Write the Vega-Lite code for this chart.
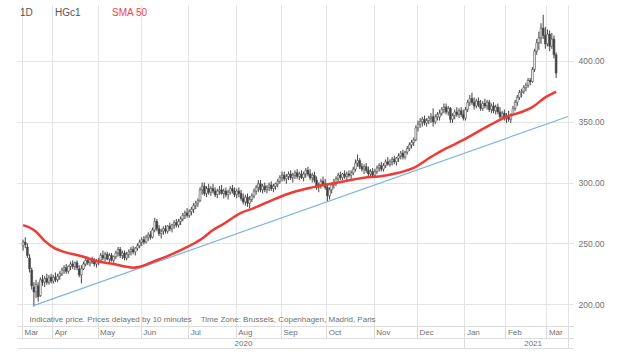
{
  "$schema": "https://vega.github.io/schema/vega-lite/v6.json",
  "width": 556,
  "height": 321,
  "padding": {"left": 17, "top": 5, "right": 5, "bottom": 5},
  "background": "white",
  "config": {
    "font": "Liberation Sans",
    "view": {"stroke": null},
    "axis": {"gridColor": "#e4e4e4", "domainColor": "#dcdcdc", "tickColor": "#dcdcdc", "labelColor": "#707070", "labelFontSize": 8, "labelFont": "Liberation Sans"},
    "axisY": {"orient": "right", "format": ".2f", "grid": true, "domain": false, "ticks": false, "labelPadding": 5, "labelFontSize": 8.5, "title": null}
  },
  "datasets": {
    "ohlc": [
      {"t":0,"o":248,"h":253,"l":244,"c":251},{"t":1,"o":251,"h":255,"l":246,"c":249},{"t":2,"o":247,"h":250,"l":238,"c":240},{"t":3,"o":238,"h":241,"l":226,"c":229},{"t":4,"o":228,"h":230,"l":212,"c":215},{"t":5,"o":214,"h":218,"l":198,"c":210},{"t":6,"o":210,"h":220,"l":205,"c":216},{"t":7,"o":215,"h":218,"l":202,"c":206},{"t":8,"o":207,"h":222,"l":206,"c":220},{"t":9,"o":220,"h":224,"l":215,"c":218},
      {"t":10,"o":218,"h":223,"l":214,"c":221},{"t":11,"o":221,"h":225,"l":216,"c":218},{"t":12,"o":218,"h":224,"l":216,"c":222},{"t":13,"o":222,"h":225,"l":217,"c":219},{"t":14,"o":219,"h":224,"l":217,"c":222},{"t":15,"o":222,"h":226,"l":218,"c":220},{"t":16,"o":220,"h":225,"l":218,"c":223},{"t":17,"o":223,"h":227,"l":220,"c":225},{"t":18,"o":225,"h":230,"l":223,"c":228},{"t":19,"o":228,"h":232,"l":225,"c":230},
      {"t":20,"o":230,"h":233,"l":225,"c":227},{"t":21,"o":227,"h":232,"l":225,"c":231},{"t":22,"o":231,"h":235,"l":228,"c":233},{"t":23,"o":233,"h":236,"l":229,"c":231},{"t":24,"o":231,"h":235,"l":228,"c":234},{"t":25,"o":234,"h":236,"l":228,"c":230},{"t":26,"o":229,"h":232,"l":222,"c":224},{"t":27,"o":224,"h":232,"l":217,"c":229},{"t":28,"o":229,"h":235,"l":228,"c":233},{"t":29,"o":233,"h":238,"l":231,"c":236},
      {"t":30,"o":236,"h":239,"l":232,"c":234},{"t":31,"o":234,"h":238,"l":231,"c":237},{"t":32,"o":237,"h":239,"l":233,"c":235},{"t":33,"o":235,"h":238,"l":231,"c":233},{"t":34,"o":233,"h":237,"l":230,"c":235},{"t":35,"o":235,"h":238,"l":232,"c":236},{"t":36,"o":236,"h":242,"l":235,"c":240},{"t":37,"o":240,"h":244,"l":236,"c":238},{"t":38,"o":238,"h":243,"l":235,"c":241},{"t":39,"o":241,"h":243,"l":236,"c":237},
      {"t":40,"o":237,"h":242,"l":234,"c":240},{"t":41,"o":240,"h":242,"l":235,"c":236},{"t":42,"o":236,"h":240,"l":234,"c":239},{"t":43,"o":239,"h":244,"l":237,"c":242},{"t":44,"o":242,"h":247,"l":239,"c":245},{"t":45,"o":245,"h":247,"l":238,"c":240},{"t":46,"o":240,"h":244,"l":237,"c":242},{"t":47,"o":242,"h":244,"l":236,"c":238},{"t":48,"o":238,"h":243,"l":236,"c":241},{"t":49,"o":241,"h":245,"l":238,"c":243},
      {"t":50,"o":243,"h":247,"l":240,"c":245},{"t":51,"o":245,"h":248,"l":241,"c":243},{"t":52,"o":243,"h":247,"l":240,"c":246},{"t":53,"o":246,"h":250,"l":244,"c":248},{"t":54,"o":248,"h":253,"l":246,"c":251},{"t":55,"o":251,"h":255,"l":248,"c":253},{"t":56,"o":253,"h":256,"l":249,"c":251},{"t":57,"o":251,"h":257,"l":250,"c":255},{"t":58,"o":255,"h":259,"l":252,"c":257},{"t":59,"o":257,"h":260,"l":253,"c":255},
      {"t":60,"o":255,"h":263,"l":254,"c":261},{"t":61,"o":261,"h":271,"l":259,"c":268},{"t":62,"o":268,"h":270,"l":260,"c":262},{"t":63,"o":262,"h":265,"l":256,"c":258},{"t":64,"o":258,"h":262,"l":254,"c":260},{"t":65,"o":260,"h":264,"l":257,"c":262},{"t":66,"o":262,"h":265,"l":258,"c":260},{"t":67,"o":260,"h":265,"l":258,"c":264},{"t":68,"o":264,"h":267,"l":260,"c":262},{"t":69,"o":262,"h":266,"l":259,"c":265},
      {"t":70,"o":265,"h":269,"l":262,"c":267},{"t":71,"o":267,"h":270,"l":263,"c":265},{"t":72,"o":265,"h":270,"l":263,"c":268},{"t":73,"o":268,"h":272,"l":265,"c":270},{"t":74,"o":270,"h":275,"l":268,"c":273},{"t":75,"o":273,"h":277,"l":270,"c":275},{"t":76,"o":275,"h":279,"l":271,"c":273},{"t":77,"o":273,"h":278,"l":271,"c":276},{"t":78,"o":276,"h":280,"l":273,"c":278},{"t":79,"o":278,"h":283,"l":275,"c":281},
      {"t":80,"o":281,"h":285,"l":278,"c":283},{"t":81,"o":283,"h":287,"l":280,"c":285},{"t":82,"o":285,"h":296,"l":284,"c":294},{"t":83,"o":294,"h":300,"l":290,"c":297},{"t":84,"o":297,"h":300,"l":289,"c":291},{"t":85,"o":291,"h":297,"l":288,"c":295},{"t":86,"o":295,"h":299,"l":290,"c":292},{"t":87,"o":292,"h":297,"l":289,"c":295},{"t":88,"o":295,"h":299,"l":291,"c":293},{"t":89,"o":293,"h":296,"l":288,"c":290},
      {"t":90,"o":290,"h":295,"l":287,"c":293},{"t":91,"o":293,"h":297,"l":290,"c":294},{"t":92,"o":294,"h":298,"l":290,"c":291},{"t":93,"o":291,"h":295,"l":287,"c":293},{"t":94,"o":293,"h":296,"l":288,"c":290},{"t":95,"o":290,"h":294,"l":286,"c":292},{"t":96,"o":292,"h":297,"l":290,"c":295},{"t":97,"o":295,"h":298,"l":291,"c":293},{"t":98,"o":293,"h":296,"l":288,"c":290},{"t":99,"o":290,"h":295,"l":287,"c":293},
      {"t":100,"o":293,"h":296,"l":288,"c":291},{"t":101,"o":291,"h":294,"l":285,"c":287},{"t":102,"o":287,"h":291,"l":282,"c":284},{"t":103,"o":284,"h":290,"l":281,"c":288},{"t":104,"o":288,"h":291,"l":280,"c":283},{"t":105,"o":283,"h":289,"l":279,"c":286},{"t":106,"o":286,"h":291,"l":284,"c":289},{"t":107,"o":289,"h":295,"l":287,"c":293},{"t":108,"o":293,"h":298,"l":290,"c":296},{"t":109,"o":296,"h":302,"l":292,"c":299},
      {"t":110,"o":299,"h":302,"l":292,"c":294},{"t":111,"o":294,"h":299,"l":291,"c":297},{"t":112,"o":297,"h":300,"l":292,"c":294},{"t":113,"o":294,"h":298,"l":291,"c":296},{"t":114,"o":296,"h":300,"l":293,"c":298},{"t":115,"o":298,"h":301,"l":293,"c":295},{"t":116,"o":295,"h":299,"l":292,"c":297},{"t":117,"o":297,"h":300,"l":294,"c":299},{"t":118,"o":299,"h":303,"l":296,"c":301},{"t":119,"o":301,"h":306,"l":299,"c":304},
      {"t":120,"o":304,"h":309,"l":301,"c":306},{"t":121,"o":306,"h":309,"l":301,"c":303},{"t":122,"o":303,"h":307,"l":299,"c":305},{"t":123,"o":305,"h":309,"l":302,"c":307},{"t":124,"o":307,"h":310,"l":302,"c":304},{"t":125,"o":304,"h":308,"l":300,"c":306},{"t":126,"o":306,"h":310,"l":303,"c":308},{"t":127,"o":308,"h":311,"l":303,"c":305},{"t":128,"o":305,"h":309,"l":302,"c":307},{"t":129,"o":307,"h":310,"l":303,"c":304},
      {"t":130,"o":304,"h":309,"l":301,"c":307},{"t":131,"o":307,"h":312,"l":304,"c":310},{"t":132,"o":310,"h":313,"l":305,"c":307},{"t":133,"o":307,"h":311,"l":302,"c":304},{"t":134,"o":304,"h":308,"l":300,"c":306},{"t":135,"o":306,"h":309,"l":300,"c":302},{"t":136,"o":302,"h":305,"l":294,"c":296},{"t":137,"o":296,"h":300,"l":292,"c":298},{"t":138,"o":298,"h":303,"l":295,"c":301},{"t":139,"o":301,"h":305,"l":297,"c":299},
      {"t":140,"o":299,"h":303,"l":294,"c":296},{"t":141,"o":296,"h":298,"l":284,"c":289},{"t":142,"o":289,"h":296,"l":286,"c":294},{"t":143,"o":294,"h":300,"l":291,"c":298},{"t":144,"o":298,"h":303,"l":295,"c":300},{"t":145,"o":300,"h":305,"l":297,"c":303},{"t":146,"o":303,"h":308,"l":301,"c":306},{"t":147,"o":306,"h":309,"l":302,"c":304},{"t":148,"o":304,"h":308,"l":302,"c":307},{"t":149,"o":307,"h":310,"l":303,"c":305},
      {"t":150,"o":305,"h":309,"l":302,"c":307},{"t":151,"o":307,"h":310,"l":304,"c":306},{"t":152,"o":306,"h":310,"l":303,"c":308},{"t":153,"o":308,"h":313,"l":306,"c":311},{"t":154,"o":311,"h":319,"l":309,"c":316},{"t":155,"o":316,"h":323,"l":313,"c":318},{"t":156,"o":318,"h":320,"l":311,"c":313},{"t":157,"o":313,"h":316,"l":309,"c":311},{"t":158,"o":311,"h":315,"l":307,"c":313},{"t":159,"o":313,"h":316,"l":308,"c":310},
      {"t":160,"o":310,"h":313,"l":305,"c":307},{"t":161,"o":307,"h":311,"l":304,"c":309},{"t":162,"o":309,"h":312,"l":304,"c":306},{"t":163,"o":306,"h":311,"l":304,"c":309},{"t":164,"o":309,"h":314,"l":307,"c":312},{"t":165,"o":312,"h":316,"l":309,"c":314},{"t":166,"o":314,"h":317,"l":309,"c":311},{"t":167,"o":311,"h":316,"l":309,"c":314},{"t":168,"o":314,"h":319,"l":312,"c":317},{"t":169,"o":317,"h":321,"l":314,"c":315},
      {"t":170,"o":315,"h":319,"l":313,"c":317},{"t":171,"o":317,"h":321,"l":314,"c":319},{"t":172,"o":319,"h":322,"l":315,"c":317},{"t":173,"o":317,"h":321,"l":314,"c":320},{"t":174,"o":320,"h":324,"l":317,"c":322},{"t":175,"o":322,"h":326,"l":319,"c":324},{"t":176,"o":324,"h":327,"l":319,"c":321},{"t":177,"o":321,"h":326,"l":319,"c":325},{"t":178,"o":325,"h":330,"l":323,"c":328},{"t":179,"o":328,"h":333,"l":326,"c":331},
      {"t":180,"o":331,"h":335,"l":328,"c":333},{"t":181,"o":333,"h":337,"l":330,"c":335},{"t":182,"o":335,"h":347,"l":334,"c":345},{"t":183,"o":345,"h":351,"l":342,"c":348},{"t":184,"o":348,"h":353,"l":345,"c":350},{"t":185,"o":350,"h":354,"l":346,"c":352},{"t":186,"o":352,"h":355,"l":347,"c":349},{"t":187,"o":349,"h":353,"l":346,"c":351},{"t":188,"o":351,"h":355,"l":348,"c":353},{"t":189,"o":353,"h":357,"l":349,"c":354},
      {"t":190,"o":354,"h":361,"l":346,"c":350},{"t":191,"o":350,"h":356,"l":348,"c":354},{"t":192,"o":354,"h":358,"l":351,"c":356},{"t":193,"o":354,"h":360,"l":351,"c":357},{"t":194,"o":357,"h":362,"l":355,"c":360},{"t":195,"o":360,"h":365,"l":357,"c":362},{"t":196,"o":362,"h":365,"l":356,"c":358},{"t":197,"o":358,"h":363,"l":355,"c":361},{"t":198,"o":361,"h":362,"l":349,"c":352},{"t":199,"o":352,"h":357,"l":349,"c":355},
      {"t":200,"o":355,"h":360,"l":352,"c":358},{"t":201,"o":358,"h":362,"l":354,"c":356},{"t":202,"o":356,"h":361,"l":353,"c":359},{"t":203,"o":359,"h":362,"l":354,"c":356},{"t":204,"o":356,"h":360,"l":351,"c":353},{"t":205,"o":353,"h":362,"l":351,"c":360},{"t":206,"o":360,"h":368,"l":358,"c":366},{"t":207,"o":366,"h":372,"l":363,"c":369},{"t":208,"o":369,"h":374,"l":364,"c":366},{"t":209,"o":366,"h":370,"l":360,"c":363},
      {"t":210,"o":363,"h":369,"l":361,"c":367},{"t":211,"o":367,"h":370,"l":362,"c":364},{"t":212,"o":364,"h":368,"l":359,"c":361},{"t":213,"o":361,"h":367,"l":359,"c":365},{"t":214,"o":365,"h":369,"l":361,"c":363},{"t":215,"o":363,"h":368,"l":360,"c":366},{"t":216,"o":366,"h":368,"l":358,"c":360},{"t":217,"o":360,"h":365,"l":357,"c":363},{"t":218,"o":363,"h":366,"l":357,"c":359},{"t":219,"o":359,"h":364,"l":356,"c":362},
      {"t":220,"o":362,"h":365,"l":356,"c":358},{"t":221,"o":358,"h":362,"l":351,"c":354},{"t":222,"o":354,"h":359,"l":352,"c":357},{"t":223,"o":357,"h":360,"l":351,"c":353},{"t":224,"o":353,"h":357,"l":349,"c":355},{"t":225,"o":355,"h":359,"l":350,"c":352},{"t":226,"o":352,"h":357,"l":349,"c":356},{"t":227,"o":356,"h":363,"l":355,"c":361},{"t":228,"o":361,"h":368,"l":359,"c":366},{"t":229,"o":366,"h":372,"l":363,"c":370},
      {"t":230,"o":370,"h":376,"l":368,"c":374},{"t":231,"o":374,"h":377,"l":370,"c":375},{"t":232,"o":375,"h":380,"l":373,"c":378},{"t":233,"o":378,"h":382,"l":375,"c":380},{"t":234,"o":380,"h":386,"l":378,"c":384},{"t":235,"o":384,"h":386,"l":380,"c":383},{"t":236,"o":383,"h":395,"l":382,"c":393},{"t":237,"o":393,"h":410,"l":391,"c":408},{"t":238,"o":408,"h":418,"l":405,"c":415},{"t":239,"o":415,"h":424,"l":409,"c":419},
      {"t":240,"o":419,"h":431,"l":414,"c":427},{"t":241,"o":427,"h":438,"l":418,"c":421},{"t":242,"o":421,"h":428,"l":410,"c":414},{"t":243,"o":414,"h":426,"l":412,"c":422},{"t":244,"o":422,"h":425,"l":408,"c":412},{"t":245,"o":412,"h":423,"l":410,"c":418},{"t":246,"o":418,"h":421,"l":402,"c":405},{"t":247,"o":405,"h":407,"l":386,"c":390}
    ],
    "sma": [
      {"t":0,"v":265},{"t":3,"v":263},{"t":6,"v":259.5},{"t":10,"v":252},{"t":14.5,"v":246},{"t":19,"v":243},{"t":28,"v":239},{"t":34,"v":235.4},{"t":42,"v":233},{"t":48,"v":230.7},{"t":51,"v":230},{"t":54,"v":230.7},{"t":60,"v":234.8},{"t":68,"v":240.3},{"t":75,"v":246},{"t":83,"v":254},{"t":88,"v":261},{"t":92,"v":265},{"t":101,"v":275},{"t":107,"v":279},{"t":116,"v":286},{"t":125,"v":292},{"t":134,"v":296},{"t":146,"v":300},{"t":158,"v":304},{"t":165,"v":305},{"t":174,"v":308},{"t":181,"v":312},{"t":189,"v":321},{"t":196,"v":328},{"t":204,"v":335},{"t":210,"v":341},{"t":216,"v":347},{"t":224,"v":354},{"t":231,"v":358},{"t":236,"v":362},{"t":242,"v":370},{"t":247,"v":374.5}
    ],
    "trend": [
      {"t":4.5,"v":198.5},{"t":252.5,"v":354.3}
    ]
  },
  "resolve": {"axis": {"x": "independent"}},
  "layer": [
    {
      "data": {"name": "ohlc"},
      "mark": {"type": "rule", "strokeWidth": 1},
      "encoding": {
        "x": {"field": "t", "type": "quantitative",
          "scale": {"domain": [-0.5, 252.5], "nice": false, "zero": false},
          "axis": {
            "orient": "bottom",
            "values": [-0.5, 13.5, 34.5, 54.5, 76.5, 98.5, 119.5, 140.5, 162.5, 182.5, 204.5, 223.5, 242.5, 252.5],
            "labelExpr": "datum.value < 0 ? 'Mar' : datum.value < 14 ? 'Apr' : datum.value < 35 ? 'May' : datum.value < 55 ? 'Jun' : datum.value < 77 ? 'Jul' : datum.value < 99 ? 'Aug' : datum.value < 120 ? 'Sep' : datum.value < 141 ? 'Oct' : datum.value < 163 ? 'Nov' : datum.value < 183 ? 'Dec' : datum.value < 205 ? 'Jan' : datum.value < 224 ? 'Feb' : datum.value < 243 ? 'Mar' : ''",
            "grid": true, "domain": true, "ticks": true, "tickSize": 12,
            "labelAlign": "left", "labelBaseline": "top", "labelOffset": 2, "labelPadding": -10,
            "labelFlush": false, "labelBound": false, "labelOverlap": false,
            "title": "Indicative price. Prices delayed by 10 minutes\u00a0\u00a0\u00a0\u00a0Time Zone: Brussels, Copenhagen, Madrid, Paris",
            "titleX": 12, "titleY": -7, "titleAlign": "left", "titleBaseline": "middle", "titleAnchor": null,
            "titleFontSize": 8, "titleFontWeight": "normal", "titleColor": "#707070", "titleFont": "Liberation Sans"
          }
        },
        "y": {"field": "l", "type": "quantitative", "title": null,
          "scale": {"domain": [182, 446], "nice": false, "zero": false},
          "axis": {"orient": "right", "values": [200, 250, 300, 350, 400], "format": ".2f", "grid": true, "domain": false, "ticks": false, "labelPadding": 5, "labelFontSize": 8.5, "title": null}
        },
        "y2": {"field": "h"},
        "color": {"datum": "HGc1", "type": "nominal",
          "scale": {"domain": ["HGc1", "SMA 50"], "range": ["#444444", "#f03a34"]},
          "legend": {
            "orient": "top-left", "offset": 3, "padding": 0, "direction": "horizontal",
            "title": "1D", "titleOrient": "left", "titlePadding": 8, "titleFontSize": 10, "titleFontWeight": "normal", "titleColor": "#555555", "titleBaseline": "middle", "titleFont": "Liberation Sans",
            "labelFontSize": 10, "labelOffset": 4, "columnPadding": 17, "symbolSize": 0, "symbolOpacity": 0, "symbolStrokeWidth": 0, "labelFont": "Liberation Sans",
            "encode": {"labels": {"update": {"fill": {"signal": "datum.label === 'SMA 50' ? '#f04545' : '#555555'"}}}}
          }
        }
      }
    },
    {
      "data": {"name": "ohlc"},
      "mark": {"type": "bar", "size": 1.8, "stroke": "#444444", "strokeWidth": 0.6},
      "encoding": {
        "x": {"field": "t", "type": "quantitative", "axis": null},
        "y": {"field": "o", "type": "quantitative", "title": null,
          "axis": {"orient": "right", "values": [200, 250, 300, 350, 400], "format": ".2f", "grid": true, "domain": false, "ticks": false, "labelPadding": 5, "labelFontSize": 8.5, "title": null}},
        "y2": {"field": "c"},
        "fill": {"condition": {"test": "datum.c >= datum.o", "value": "#ffffff"}, "value": "#444444"}
      }
    },
    {
      "data": {"name": "trend"},
      "mark": {"type": "line", "color": "#7db3e6", "strokeWidth": 1.2, "clip": true},
      "encoding": {
        "x": {"field": "t", "type": "quantitative",
          "axis": {"orient": "bottom", "offset": 22, "values": [101.9, 236.1], "labelExpr": "datum.value < 150 ? '2020' : '2021'", "grid": false, "ticks": false, "domain": true, "labelAlign": "center", "labelBaseline": "top", "labelPadding": -9, "labelFlush": false, "labelBound": false, "title": null}
        },
        "y": {"field": "v", "type": "quantitative", "title": null,
          "axis": {"orient": "right", "values": [200, 250, 300, 350, 400], "format": ".2f", "grid": true, "domain": false, "ticks": false, "labelPadding": 5, "labelFontSize": 8.5, "title": null}}
      }
    },
    {
      "data": {"name": "sma"},
      "mark": {"type": "line", "strokeWidth": 2.5, "interpolate": "monotone"},
      "encoding": {
        "x": {"field": "t", "type": "quantitative",
          "axis": {"orient": "bottom", "offset": 12, "values": [204.5, 252.5], "labels": false, "grid": false, "ticks": true, "tickSize": 10, "domain": true, "title": null}
        },
        "y": {"field": "v", "type": "quantitative", "title": null,
          "axis": {"orient": "right", "values": [200, 250, 300, 350, 400], "format": ".2f", "grid": true, "domain": false, "ticks": false, "labelPadding": 5, "labelFontSize": 8.5, "title": null}},
        "color": {"datum": "SMA 50", "type": "nominal"}
      }
    }
  ]
}
